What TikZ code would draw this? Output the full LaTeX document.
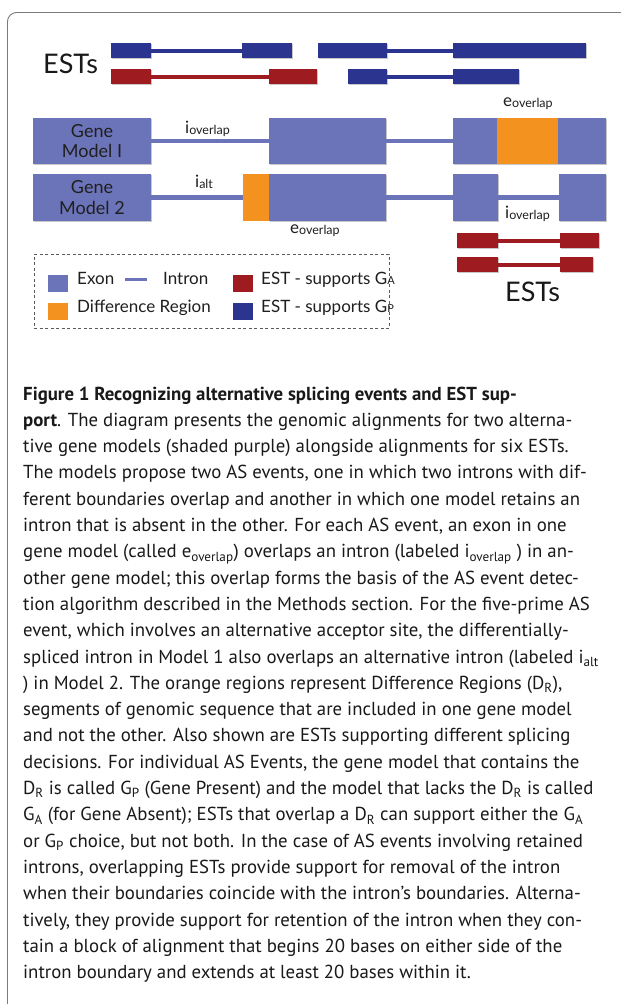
\documentclass[tikz,border=0pt]{standalone}
\usepackage{fontspec}
\setmainfont{PT Sans}
\newfontfamily\diagfont{Lato}
\usetikzlibrary{shadows}
\definecolor{exonc}{HTML}{6C74B9}
\definecolor{diffc}{HTML}{F4921F}
\definecolor{estb}{HTML}{2B3590}
\definecolor{estr}{HTML}{9E1C20}
\definecolor{framec}{HTML}{7A7A7A}
\definecolor{legc}{HTML}{5A5A5A}
\newcommand{\dsub}[2]{#1\raisebox{-1.5pt}{\fontsize{12.5}{12.5}\selectfont #2}}
\newcommand{\gsub}[1]{G{\fontsize{11}{11}\selectfont #1}}
\tikzset{
  blk/.style={draw=none, inner sep=0pt, outer sep=0pt, anchor=north west},
  shad/.style={drop shadow={shadow xshift=1.2pt, shadow yshift=-1.4pt, opacity=0.22, fill=black}},
  exon/.style={blk, fill=exonc, shad},
  diffr/.style={blk, fill=diffc},
  esta/.style={blk, fill=estr, shad},
  estp/.style={blk, fill=estb, shad},
  swatch/.style={blk, minimum width=20, minimum height=17},
  gline/.style={exonc, line width=4.5pt},
  rline/.style={estr, line width=4pt},
  bline/.style={estb, line width=4pt},
  lbl/.style={font=\diagfont\fontsize{17}{17}\selectfont, inner sep=0pt, anchor=base west, text=black!88},
  big/.style={font=\diagfont\fontsize{27}{27}\selectfont, inner sep=0pt, anchor=base west, text=black!90},
  gtxt/.style={font=\diagfont\fontsize{18}{20.5}\selectfont, align=center, text=black!88},
  capl/.style={font=\fontsize{18.8}{22}\selectfont, inner sep=0pt, anchor=base west, text=black!90}
}
\begin{document}
\begin{tikzpicture}[x=1pt, y=-1pt]
\useasboundingbox (0,0) rectangle (621,1004);
\fill[white] (0,0) rectangle (621,1004);
\clip (0,0) rectangle (621,1004);
\draw[framec, line width=0.9pt, rounded corners=9pt] (7.5,12.5) rectangle (660,1030);

% ---- ESTs top ----
\node[big] (estsT) at (43,73) {ESTs};
\node[estp, minimum width=40, minimum height=15] (e1a) at (111,43) {};
\node[estp, minimum width=50, minimum height=15] (e1b) at (242,43) {};
\node[estp, minimum width=69, minimum height=15] (e2a) at (318,43) {};
\node[estp, minimum width=133, minimum height=15] (e2b) at (453,43) {};
\node[esta, minimum width=40, minimum height=15] (r1a) at (111,69) {};
\node[esta, minimum width=48, minimum height=15] (r1b) at (269,69) {};
\node[estp, minimum width=39, minimum height=15] (e3a) at (348,69) {};
\node[estp, minimum width=66, minimum height=15] (e3b) at (453,69) {};
\draw[bline] (e1a.east) -- (e1b.west);
\draw[bline] (e2a.east) -- (e2b.west);
\draw[rline] (r1a.east) -- (r1b.west);
\draw[bline] (e3a.east) -- (e3b.west);

% ---- Gene model 1 ----
\node[exon, minimum width=118, minimum height=46, gtxt] (m1a) at (33,118) {Gene\\Model I};
\node[exon, minimum width=117, minimum height=46] (m1b) at (269,118) {};
\node[exon, minimum width=153, minimum height=46] (m1c) at (453,118) {};
\node[diffr, minimum width=61, minimum height=46] (m1d) at (497,118) {};
\draw[gline] (m1a.east) -- (m1b.west);
\draw[gline] (m1b.east) -- (m1c.west);
\node[lbl] (io1) at (185,133) {\dsub{i}{overlap}};
\node[lbl] (eo1) at (503,106) {\dsub{e}{overlap}};

% ---- Gene model 2 ----
\node[exon, minimum width=118, minimum height=47, gtxt] (m2a) at (33,174) {Gene\\Model 2};
\node[diffr, minimum width=26, minimum height=47] (m2o) at (243,174) {};
\node[exon, minimum width=117, minimum height=47] (m2b) at (269,174) {};
\node[exon, minimum width=45, minimum height=47] (m2c) at (453,174) {};
\node[exon, minimum width=47, minimum height=47] (m2d) at (559,174) {};
\draw[gline] (m2a.east) -- (m2o.west);
\draw[gline] (m2b.east) -- (m2c.west);
\draw[gline] (m2c.east) -- (m2d.west);
\node[lbl] (ia) at (195,187) {\dsub{i}{alt}};
\node[lbl] (eo2) at (290,233) {\dsub{e}{overlap}};
\node[lbl] (io2) at (505,218) {\dsub{i}{overlap}};

% ---- ESTs bottom ----
\node[esta, minimum width=41, minimum height=15] (b1a) at (457,233) {};
\node[esta, minimum width=39, minimum height=15] (b1b) at (560,233) {};
\node[esta, minimum width=41, minimum height=15] (b2a) at (457,257) {};
\node[esta, minimum width=33, minimum height=15] (b2b) at (560,257) {};
\draw[rline] (b1a.east) -- (b1b.west);
\draw[rline] (b2a.east) -- (b2b.west);
\node[big] (estsB) at (505,301) {ESTs};

% ---- Legend ----
\node[draw=legc, dash pattern=on 3pt off 2.5pt, line width=0.9pt, inner sep=0pt, anchor=north west, minimum width=355, minimum height=74] (leg) at (34,254) {};
\node[swatch, fill=exonc] (sw1) at (48,275) {};
\node[lbl] (tx1) at (77,284) {Exon};
\coordinate (li1) at (125,279);
\coordinate (li2) at (147,279);
\draw[exonc, line width=3pt] (li1) -- (li2);
\node[lbl] (tx2) at (163,284) {Intron};
\node[swatch, fill=estr] (sw2) at (233,275) {};
\node[lbl] (tx3) at (261,284) {EST - supports \gsub{A}};
\node[swatch, fill=diffc] (sw3) at (48,303) {};
\node[lbl] (tx4) at (77,312) {Difference Region};
\node[swatch, fill=estb] (sw4) at (233,303) {};
\node[lbl] (tx5) at (261,312) {EST - supports \gsub{P}};

% ---- Caption ----
\foreach \t [count=\i] in {
 {\textbf{Figure 1 Recognizing alternative splicing events and EST sup-}},
 {\textbf{port}. The diagram presents the genomic alignments for two alterna-},
 {tive gene models (shaded purple) alongside alignments for six ESTs.},
 {The models propose two AS events, one in which two introns with dif-},
 {ferent boundaries overlap and another in which one model retains an},
 {intron that is absent in the other. For each AS event, an exon in one},
 {gene model (called e\textsubscript{overlap}) overlaps an intron (labeled i\textsubscript{overlap} ) in an-},
 {other gene model; this overlap forms the basis of the AS event detec-},
 {tion algorithm described in the Methods section. For the five-prime AS},
 {event, which involves an alternative acceptor site, the differentially-},
 {spliced intron in Model 1 also overlaps an alternative intron (labeled i\textsubscript{alt}},
 {) in Model 2. The orange regions represent Difference Regions (D\textsubscript{R}),},
 {segments of genomic sequence that are included in one gene model},
 {and not the other. Also shown are ESTs supporting different splicing},
 {decisions. For individual AS Events, the gene model that contains the},
 {D\textsubscript{R} is called G\textsubscript{P} (Gene Present) and the model that lacks the D\textsubscript{R} is called},
 {G\textsubscript{A} (for Gene Absent); ESTs that overlap a D\textsubscript{R} can support either the G\textsubscript{A}},
 {or G\textsubscript{P} choice, but not both. In the case of AS events involving retained},
 {introns, overlapping ESTs provide support for removal of the intron},
 {when their boundaries coincide with the intron's boundaries. Alterna-},
 {tively, they provide support for retention of the intron when they con-},
 {tain a block of alignment that begins 20 bases on either side of the},
 {intron boundary and extends at least 20 bases within it.}
}{
 \node[capl] (cap\i) at (23, {400+26.3*(\i-1)}) {\t};
}
\end{tikzpicture}
\end{document}
